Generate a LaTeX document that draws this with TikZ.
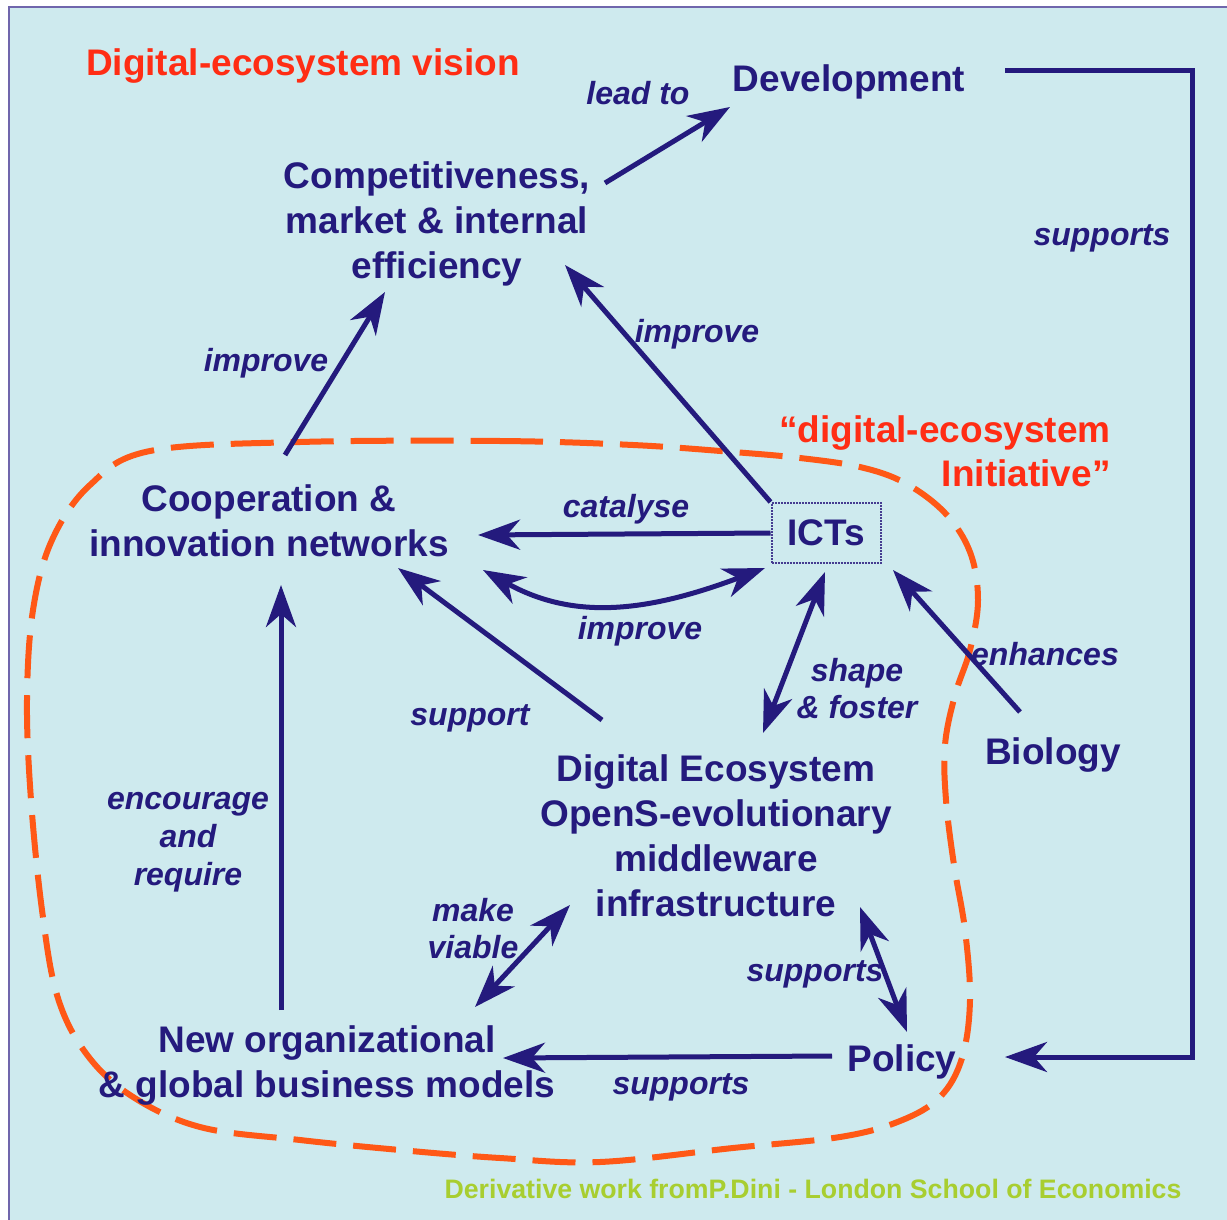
\documentclass[tikz,border=0pt]{standalone}
\usepackage{fontspec}
\setmainfont{Liberation Sans}
\usetikzlibrary{arrows.meta}
\definecolor{sky}{RGB}{206,234,238}
\definecolor{frame}{RGB}{112,102,172}
\definecolor{ink}{RGB}{36,26,125}
\definecolor{vision}{RGB}{255,45,20}
\definecolor{rim}{RGB}{255,88,22}
\definecolor{credit}{RGB}{168,206,48}

\begin{document}
\begin{tikzpicture}[x=1pt, y=-1pt,
  >={Stealth[length=42pt, width=30pt, inset=13pt]},
  concept/.style={inner sep=0pt, align=center, text=ink,
    font=\fontsize{37}{45}\selectfont\bfseries},
  verb/.style={inner sep=0pt, align=center, text=ink,
    font=\fontsize{32}{37}\selectfont\bfseries\itshape},
  link/.style={ink, line width=5pt, ->}]
  \useasboundingbox (0,0) rectangle (1227,1220);

  % panel
  \fill[sky] (9,7) rectangle (1227,1220);
  \draw[frame, line width=2pt] (9,1220) -- (9,7) -- (1227,7);

  % the initiative boundary
  \draw[rim, line width=6pt, dash pattern=on 43pt off 17pt]
    plot[smooth cycle, tension=0.6] coordinates {
      (300,442) (500,441) (633,445) (733,452) (800,458) (860,467)
      (905,483) (945,513) (970,552) (978,600) (970,650) (955,695)
      (945,745) (946,800) (954,865) (965,930) (970,1000) (962,1058)
      (940,1097) (900,1121) (840,1137) (733,1148) (600,1162) (500,1158)
      (400,1150) (300,1140) (200,1127) (130,1095) (85,1052) (57,995)
      (42,910) (31,800) (27,700) (33,610) (52,540) (90,485) (150,451)};

  % titles
  \node[text=vision, font=\fontsize{37}{45}\selectfont\bfseries] (vision) at (303,66) {Digital-ecosystem vision};
  \node[text=vision, align=right, inner sep=0pt, font=\fontsize{37}{44}\selectfont\bfseries] (init) at (945,451) {“digital-ecosystem\\Initiative”};

  % concepts
  \node[concept] (dev) at (849,82) {Development};
  \node[concept] (comp) at (437,224) {Competitiveness,\\market \& internal\\efficiency};
  \node[concept] (coop) at (269,521) {Cooperation \&\\innovation networks};
  \node[concept, draw=ink!85, densely dotted, line width=2pt,
        minimum width=109pt, minimum height=60pt] (icts) at (826,533) {ICTs};
  \node[concept] (bio) at (1053,755) {Biology};
  \node[concept] (deco) at (716,836) {Digital Ecosystem\\OpenS-evolutionary\\middleware\\infrastructure};
  \node[concept] (neworg) at (327,1066) {New organizational\\\& global business models};
  \node[concept] (pol) at (902,1062) {Policy};

  % relations
  \draw[link] ([shift={(168,-41)}]comp.center) -- ([shift={(-119,25)}]dev.center);
  \draw[link] ([shift={(156,-11)}]dev.center) -- ++(187,0) |- ([shift={(103,-5)}]pol.center);
  \draw[link] ([shift={(16,-66)}]coop.center) -- ([shift={(-52,68)}]comp.center);
  \draw[link] (icts.north west) -- ([shift={(128,41)}]comp.center);
  \draw[link] (icts.west) -- ([shift={(209,14)}]coop.center);
  \draw[link, <->] ([shift={(214,49)}]coop.center) .. controls +(90,50) and +(-120,45) .. ([shift={(-61,35)}]icts.center);
  \draw[link, <->] ([shift={(-1,39)}]icts.center) -- ([shift={(47,-103)}]deco.center);
  \draw[link] ([shift={(-33,-43)}]bio.center) -- ([shift={(67,37)}]icts.center);
  \draw[link] ([shift={(-114,-116)}]deco.center) -- ([shift={(129,47)}]coop.center);
  \draw[link] ([shift={(-46,-56)}]neworg.center) -- ([shift={(12,64)}]coop.center);
  \draw[link, <->] ([shift={(148,-59)}]neworg.center) -- ([shift={(-146,69)}]deco.center);
  \draw[link, <->] ([shift={(144,71)}]deco.center) -- ([shift={(5,-30)}]pol.center);
  \draw[link] ([shift={(-70,-6)}]pol.center) -- ([shift={(176,-8)}]neworg.center);

  % labels on the relations
  \node[verb] (leadto) at (638,93) {lead to};
  \node[verb] (supdev) at (1102,238) {supports};
  \node[verb] (impcoop) at (266,363) {improve};
  \node[verb] (impicts) at (697,334) {improve};
  \node[verb] (catal) at (626,509) {catalyse};
  \node[verb] (impmut) at (640,631) {improve};
  \node[verb] (shape) at (857,689) {shape\\\& foster};
  \node[verb] (enh) at (1045,654) {enhances};
  \node[verb] (supdeco) at (470,718) {support};
  \node[verb, font=\fontsize{32}{38}\selectfont\bfseries\itshape] (encour) at (188,842) {encourage\\and\\require};
  \node[verb] (viable) at (473,929) {make\\viable};
  \node[verb] (suppol) at (815,974) {supports};
  \node[verb] (supnew) at (681,1087) {supports};

  \node[text=credit, font=\fontsize{26.7}{30}\selectfont\bfseries] (credit) at (813,1189) {Derivative work fromP.Dini - London School of Economics};
\end{tikzpicture}
\end{document}
